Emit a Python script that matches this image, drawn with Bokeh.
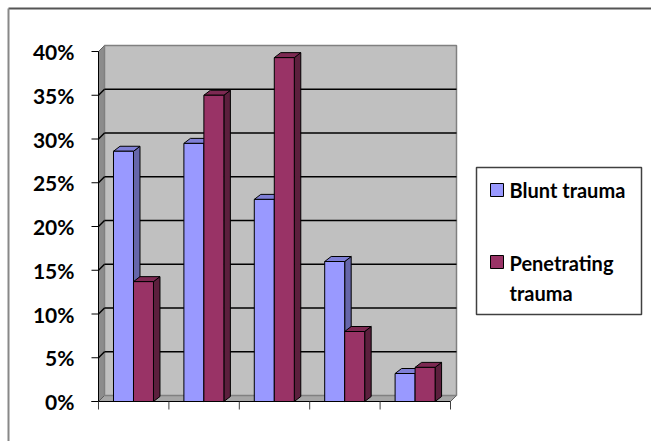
from bokeh.plotting import figure
from bokeh.models import Range1d
from bokeh.core.properties import value
from bokeh.embed import file_html
from bokeh.resources import INLINE

# ---- data ----
groups = [0, 1, 2, 3, 4]
blunt = [28.6, 29.5, 23.1, 16.0, 3.2]
penetrating = [13.7, 35.0, 39.3, 8.0, 3.9]
series_names = ["Blunt trauma", "Penetrating\ntrauma"]
y_ticks = [0, 5, 10, 15, 20, 25, 30, 35, 40]
y_tick_labels = ["0%", "5%", "10%", "15%", "20%", "25%", "30%", "35%", "40%"]

# ---- geometry (pixel scale of the frame) ----
W, H = 651, 441
X0_PX, Y0_PX = 98, 401      # front origin of the plot (0 category, 0%)
PX = 70.4                   # pixels per category
PY = 8.75                   # pixels per percent
WALL_DX, WALL_DY = 6 / PX, 6 / PY
BAR_DX, BAR_DY = 6.5 / PX, 5 / PY
BAR_W = 0.284
BAR_OFF = 0.213
FONT = "Lato"


def sx(px):
    return (px - X0_PX) / PX


def sy(py):
    return (Y0_PX - py) / PY


p = figure(width=W, height=H, min_border=0, x_axis_type=None, y_axis_type=None,
           toolbar_location=None, output_backend="svg",
           x_range=Range1d(sx(0), sx(W)), y_range=Range1d(sy(H), sy(0)))
p.outline_line_color = None
p.background_fill_color = "white"

ymax = y_ticks[-1]
ncat = len(groups)

# ---- walls ----
p.patch([0, ncat, ncat + WALL_DX, WALL_DX], [0, 0, WALL_DY, WALL_DY],
        fill_color="#A6A6A6", line_color="#606060", line_width=1)
p.patch([0, WALL_DX, WALL_DX, 0], [0, WALL_DY, ymax + WALL_DY, ymax],
        fill_color="#8C8C8C", line_color="#606060", line_width=1)
p.patch([WALL_DX, ncat + WALL_DX, ncat + WALL_DX, WALL_DX],
        [WALL_DY, WALL_DY, ymax + WALL_DY, ymax + WALL_DY],
        fill_color="#C0C0C0", line_color="#808080", line_width=1.5)

inner = [t for t in y_ticks if 0 < t < ymax]
p.multi_line([[WALL_DX, ncat + WALL_DX] for t in inner],
             [[t + WALL_DY, t + WALL_DY] for t in inner],
             line_color="black", line_width=1.5)
p.multi_line([[0, WALL_DX] for t in inner], [[t, t + WALL_DY] for t in inner],
             line_color="black", line_width=1.5)


# ---- bars ----
def draw_series(vals, offset, front, side, top):
    fx, fy, sxs, sys_, tx, ty = [], [], [], [], [], []
    for g, v in zip(groups, vals):
        x0 = g + offset
        x1 = x0 + BAR_W
        fx.append([x0, x1, x1, x0]); fy.append([0, 0, v, v])
        sxs.append([x1, x1 + BAR_DX, x1 + BAR_DX, x1]); sys_.append([0, BAR_DY, v + BAR_DY, v])
        tx.append([x0, x1, x1 + BAR_DX, x0 + BAR_DX]); ty.append([v, v, v + BAR_DY, v + BAR_DY])
    p.patches(sxs, sys_, fill_color=side, line_color="black", line_width=1)
    p.patches(tx, ty, fill_color=top, line_color="black", line_width=1)
    p.patches(fx, fy, fill_color=front, line_color="black", line_width=1)


colors = [("#9999FF", "#6666AA", "#7F7FD6"), ("#993366", "#5C1F3D", "#7D2952")]
draw_series(blunt, BAR_OFF, *colors[0])
draw_series(penetrating, BAR_OFF + BAR_W, *colors[1])

# ---- axes (drawn through the data scales) ----
tick_len = 7 / PX
p.segment(x0=[0], y0=[0], x1=[0], y1=[ymax], line_color="black", line_width=1)
p.segment(x0=[-tick_len] * len(y_ticks), y0=y_ticks, x1=[0] * len(y_ticks), y1=y_ticks,
          line_color="black", line_width=1)
p.segment(x0=[sx(91)], y0=[0], x1=[ncat], y1=[0], line_color="black", line_width=1)
xt = list(range(ncat + 1))
p.segment(x0=xt, y0=[0] * len(xt), x1=xt, y1=[-8 / PY] * len(xt),
          line_color="#404040", line_width=1)

p.text(x=[sx(74)] * len(y_ticks), y=y_ticks, text=y_tick_labels,
       text_font=value(FONT), text_font_style="bold", text_font_size="21px",
       text_align="right", text_baseline="middle", text_color="black")

# ---- outer border ----
p.segment(x0=[sx(8)], y0=[sy(8)], x1=[sx(W)], y1=[sy(8)], line_color="#555555", line_width=2)
p.segment(x0=[sx(8)], y0=[sy(8)], x1=[sx(8)], y1=[sy(H)], line_color="#888888", line_width=2)

# ---- legend ----
p.patch([sx(476), sx(641), sx(641), sx(476)], [sy(167), sy(167), sy(314), sy(314)],
        fill_color="white", line_color="#404040", line_width=1.5)
sq_y = [sy(189.5), sy(261.5)]
p.rect(x=[sx(496.5)] * 2, y=sq_y, width=13 / PX, height=13 / PY,
       fill_color=[colors[0][0], colors[1][0]], line_color="black", line_width=1)
p.text(x=[sx(509)] * 3, y=[sy(189.5), sy(262), sy(292)],
       text=[series_names[0]] + series_names[1].split("\n"),
       text_font=value(FONT), text_font_style="bold", text_font_size="20px",
       text_align="left", text_baseline="middle", text_color="black")

open("out.html", "w").write(file_html(p, INLINE))
